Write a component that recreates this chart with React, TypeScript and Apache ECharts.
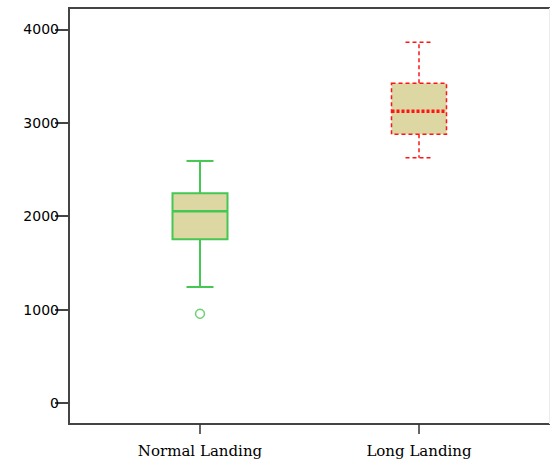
import React, { useEffect, useRef } from "react";
import * as echarts from "echarts";

const categories = ["Normal Landing", "Long Landing"];
const lowWhisker = [1242, 2627];
const q1 = [1753, 2878];
const median = [2053, 3124];
const q3 = [2246, 3424];
const highWhisker = [2592, 3863];
const outliers: [number, number][] = [[0, 956]];
const yTicks = [0, 1000, 2000, 3000, 4000];

const Y_MIN = -225;
const Y_MAX = 4230;

const styles = [
  { stroke: "#46c653", width: 2, dash: null as number[] | null, medWidth: 2.5, medDash: null as number[] | null },
  { stroke: "#ff1414", width: 1.5, dash: [4, 3], medWidth: 3.5, medDash: [3, 2] },
];

export default function App() {
  const ref = useRef<HTMLDivElement>(null);
  useEffect(() => {
    const chart = echarts.init(ref.current!, null, { renderer: "svg" });
    const boxData = categories.map((_, i) => [i, lowWhisker[i], q1[i], median[i], q3[i], highWhisker[i]]);
    chart.setOption({
      animation: false,
      backgroundColor: "#ffffff",
      grid: [
        { left: 69, right: -3, top: 8, bottom: 44, show: true, borderColor: "#444", borderWidth: 2, backgroundColor: "transparent" },
        { left: 90.5, right: 21.5, top: 8, bottom: 44 },
      ],
      graphic: [
        { type: "line", shape: { x1: 549.5, y1: 8, x2: 549.5, y2: 424 }, style: { stroke: "#ececec", lineWidth: 1 }, z: 0 },
      ],
      xAxis: [
        { gridIndex: 0, type: "value", show: false, min: 0, max: 1 },
        {
          gridIndex: 1,
          type: "category",
          data: categories,
          axisLine: { show: false, onZero: false },
          axisTick: { show: true, alignWithLabel: true, length: 10, lineStyle: { color: "#333", width: 1.5 } },
          axisLabel: { margin: 19, color: "#000", fontFamily: "DejaVu Serif", fontSize: 15 },
          splitLine: { show: false },
        },
      ],
      yAxis: [
        {
          gridIndex: 0,
          type: "value",
          min: Y_MIN,
          max: Y_MAX,
          axisLine: { show: false },
          axisTick: { show: true, length: 14, lineStyle: { color: "#444", width: 2 }, customValues: yTicks },
          axisLabel: {
            color: "#000",
            fontFamily: "DejaVu Sans",
            fontSize: 14,
            margin: 10,
            customValues: yTicks,
            formatter: (v: number) => String(v),
          },
          splitLine: { show: false },
        },
        { gridIndex: 1, type: "value", min: Y_MIN, max: Y_MAX, show: false, splitLine: { show: false } },
      ],
      series: [
        {
          type: "custom",
          xAxisIndex: 1,
          yAxisIndex: 1,
          data: boxData,
          encode: { x: 0, y: [1, 2, 3, 4, 5] },
          renderItem: (params: any, api: any) => {
            const idx = api.value(0);
            const lo = api.value(1);
            const a = api.value(2);
            const m = api.value(3);
            const b = api.value(4);
            const hi = api.value(5);
            const p = (v: number) => api.coord([idx, v]);
            const x = p(m)[0];
            const yLo = p(lo)[1];
            const yA = p(a)[1];
            const yM = p(m)[1];
            const yB = p(b)[1];
            const yHi = p(hi)[1];
            const half = 27.5;
            const cap = 13.5;
            const s = styles[params.dataIndex];
            const ls: any = { stroke: s.stroke, lineWidth: s.width, fill: null };
            if (s.dash) ls.lineDash = s.dash;
            return {
              type: "group",
              children: [
                { type: "line", shape: { x1: x, y1: yB, x2: x, y2: yHi }, style: ls },
                { type: "line", shape: { x1: x, y1: yA, x2: x, y2: yLo }, style: ls },
                { type: "line", shape: { x1: x - cap, y1: yHi, x2: x + cap, y2: yHi }, style: ls },
                { type: "line", shape: { x1: x - cap, y1: yLo, x2: x + cap, y2: yLo }, style: ls },
                {
                  type: "rect",
                  shape: { x: x - half, y: yB, width: half * 2, height: yA - yB },
                  style: { ...ls, fill: "#ddd7a3" },
                },
                {
                  type: "line",
                  shape: { x1: x - half, y1: yM, x2: x + half, y2: yM },
                  style: { stroke: s.stroke, lineWidth: s.medWidth, lineDash: s.medDash || undefined },
                },
              ],
            };
          },
        },
        {
          type: "scatter",
          xAxisIndex: 1,
          yAxisIndex: 1,
          data: outliers,
          symbol: "circle",
          symbolSize: 9,
          itemStyle: { color: "#ffffff", borderColor: "#46c653", borderWidth: 1.5 },
        },
      ],
    });
    return () => chart.dispose();
  }, []);
  return <div ref={ref} style={{ width: 550, height: 468, position: "absolute", left: 0, top: 0 }} />;
}
